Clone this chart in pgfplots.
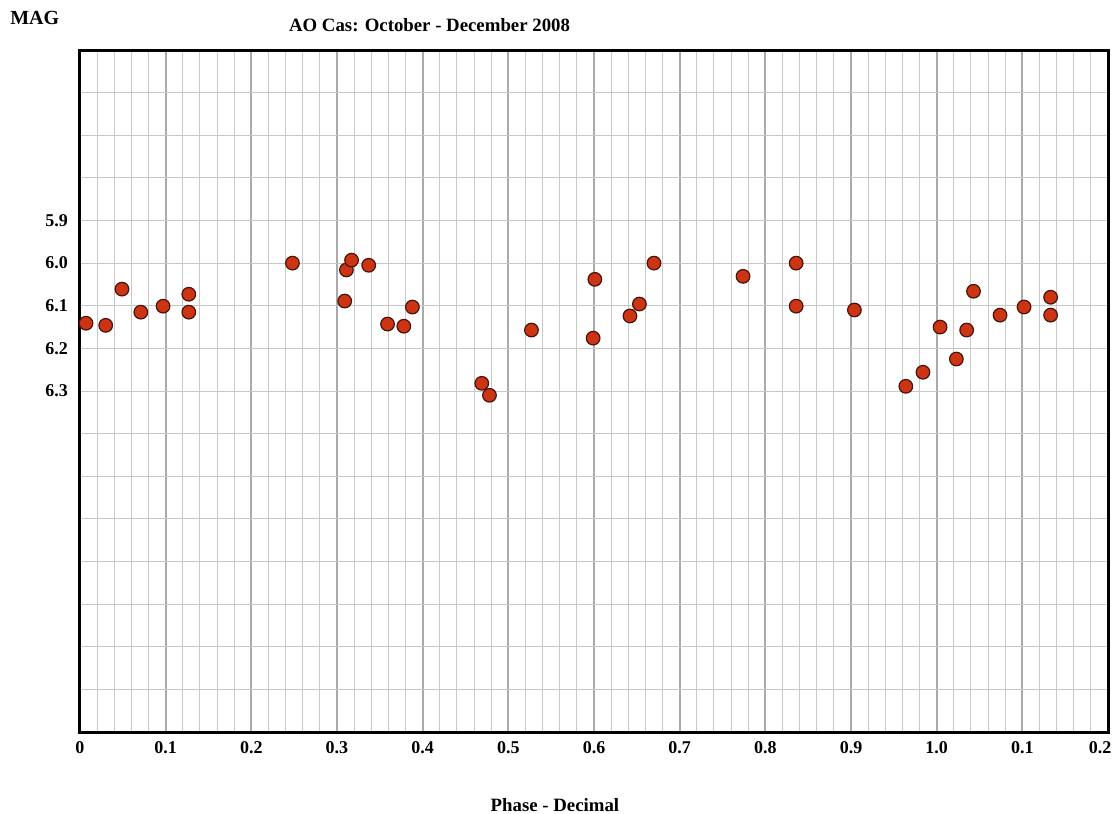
\documentclass[border=0pt]{standalone}
\usepackage{fontspec}
\setmainfont{Liberation Serif}
\usepackage{pgfplots}
\pgfplotsset{compat=1.18}

\definecolor{dotfill}{RGB}{205,52,20}
\definecolor{dotedge}{RGB}{70,20,10}
\definecolor{majgrid}{RGB}{170,170,170}
\definecolor{mingrid}{RGB}{200,200,200}

\begin{document}
\begin{tikzpicture}
% page = whole 1115x814 picture, 1 px = 0.5pt, axis box at px (80..1108, 50..732)
\path[use as bounding box] (-40pt,-41pt) rectangle (517.5pt,366pt);
\begin{axis}[
    at={(0,0)}, anchor=south west,
    scale only axis,
    width=514pt, height=341pt,
    xmin=0, xmax=1.2,
    ymin=5.5, ymax=7.1,
    y dir=reverse,
    clip=false,
    axis line style={line width=1.5pt},
    xtick={0,0.1,...,1.25},
    xticklabels={0,0.1,0.2,0.3,0.4,0.5,0.6,0.7,0.8,0.9,1.0,0.1,{\makebox[0pt]{\hspace*{-8pt}0.2}}},
    minor xtick={0,0.02,...,1.21},
    ytick={5.9,6.0,6.1,6.2,6.3},
    yticklabels={5.9,6.0,6.1,6.2,6.3},
    minor ytick={5.6,5.7,...,7.05},
    major tick length=0pt, minor tick length=0pt,
    xmajorgrids, xminorgrids, yminorgrids,
    major grid style={majgrid, line width=1pt},
    minor grid style={mingrid, line width=0.5pt},
    /pgf/number format/assume math mode=true,
    tick label style={font=\bfseries\fontsize{9}{9}\selectfont},
    xticklabel style={yshift=-1pt},
    yticklabel style={xshift=-2.5pt},
    title={AO Cas: October - December 2008},
    title style={font=\bfseries\fontsize{9.4}{10}\selectfont, at={(rel axis cs:0.34,1.037)}, anchor=center, yshift=-6pt},
    xlabel={Phase - Decimal},
    xlabel style={font=\bfseries\fontsize{9.4}{10}\selectfont, at={(rel axis cs:0.462,-0.107)}, anchor=center},
    ylabel={MAG},
    ylabel style={font=\bfseries\fontsize{10}{10}\selectfont, rotate=-90, at={(rel axis cs:-0.044,1.047)}, anchor=center},
]
\addplot[only marks, mark=*, mark size=3.4pt,
    mark options={fill=dotfill, draw=dotedge, line width=0.6pt}]
coordinates {
(0.007,6.141) (0.030,6.146) (0.049,6.061) (0.071,6.115) (0.097,6.101)
(0.127,6.073) (0.127,6.115) (0.248,6.000) (0.311,6.016) (0.317,5.993)
(0.309,6.089) (0.337,6.005) (0.359,6.143) (0.378,6.148) (0.388,6.103)
(0.469,6.282) (0.478,6.310) (0.527,6.157) (0.601,6.038) (0.599,6.176)
(0.642,6.124) (0.653,6.096) (0.670,6.000) (0.774,6.031) (0.836,6.000)
(0.836,6.101) (0.904,6.110) (0.964,6.289) (0.984,6.256) (1.004,6.150)
(1.023,6.225) (1.035,6.157) (1.043,6.066) (1.074,6.122) (1.102,6.103)
(1.133,6.080) (1.133,6.122)
};
\end{axis}
\end{tikzpicture}
\end{document}
